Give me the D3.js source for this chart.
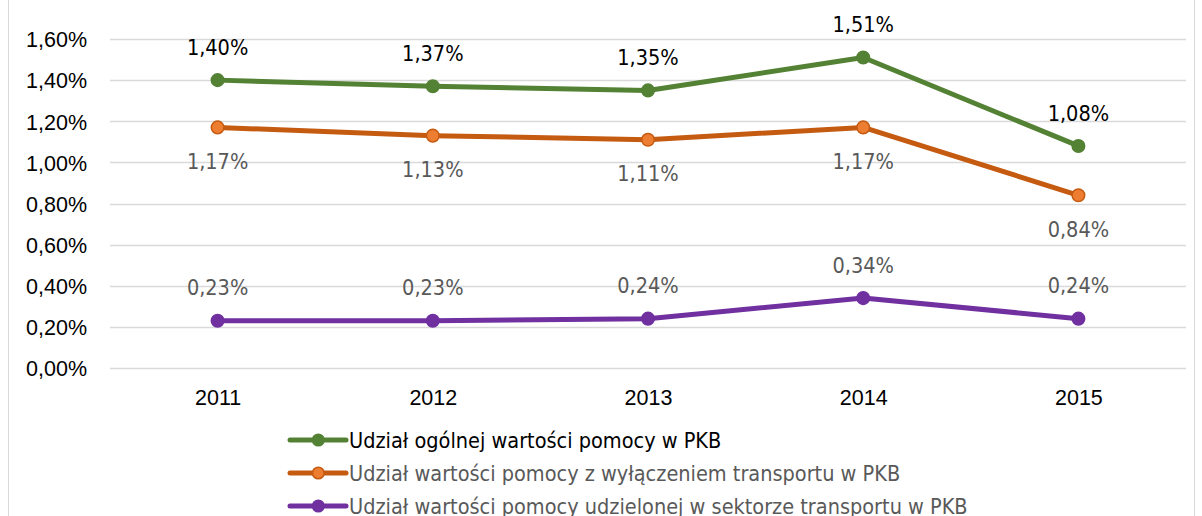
<!DOCTYPE html>
<html><head><meta charset="utf-8">
<script src="https://cdn.jsdelivr.net/npm/d3@7"></script>
<style>body{margin:0;background:#fff;}svg{display:block;font-family:"DejaVu Sans Condensed","DejaVu Sans",sans-serif;}</style>
</head><body>
<svg id="c" width="1202" height="516"></svg>
<script>
const years = ["2011","2012","2013","2014","2015"];
const seriesNames = ["Udział ogólnej wartości pomocy w PKB","Udział wartości pomocy z wyłączeniem transportu w PKB","Udział wartości pomocy udzielonej w sektorze transportu w PKB"];
const totalShare = [1.40,1.37,1.35,1.51,1.08];
const exclTransportShare = [1.17,1.13,1.11,1.17,0.84];
const transportShare = [0.23,0.23,0.24,0.34,0.24];
const yTicks = [0,0.2,0.4,0.6,0.8,1.0,1.2,1.4,1.6];

const series = [
  {name:seriesNames[0], values:totalShare, line:"#548235", fill:"#548235", labelColor:"#000", pos:"above", legendColor:"#000"},
  {name:seriesNames[1], values:exclTransportShare, line:"#C55A11", fill:"#ED7D31", labelColor:"#595959", pos:"below", legendColor:"#595959"},
  {name:seriesNames[2], values:transportShare, line:"#7030A0", fill:"#7030A0", labelColor:"#595959", pos:"above", legendColor:"#595959"}
];

const FS = 21.5;
const svg = d3.select("#c");
const fmt = v => d3.format(".2f")(v).replace(".", ",") + "%";

svg.append("rect").attr("x",8.5).attr("y",-5).attr("width",1186).attr("height",530)
  .attr("fill","none").attr("stroke","#d9d9d9");

const x = d3.scalePoint().domain(years).range([110,1186]).padding(0.5);
const y = d3.scaleLinear().domain([0,1.6]).range([368,39]);

const grid = svg.append("g");
grid.selectAll("line").data(yTicks).join("line")
  .attr("x1",110).attr("x2",1186)
  .attr("y1",d=>Math.round(y(d))+0.5).attr("y2",d=>Math.round(y(d))+0.5)
  .attr("stroke","#d9d9d9").attr("stroke-width",1.5);

const yAxis = svg.append("g").attr("transform","translate(110,0)")
  .call(d3.axisLeft(y).tickValues(yTicks).tickSize(0).tickPadding(23).tickFormat(d=>d3.format(".2f")(d).replace(".",",")+"%"));
yAxis.select(".domain").remove();
yAxis.selectAll("text").attr("font-size",FS).attr("fill","#000").attr("dy","0.36em");

const xAxis = svg.append("g").attr("transform","translate(0,368)")
  .call(d3.axisBottom(x).tickSize(0).tickPadding(0));
xAxis.select(".domain").remove();
xAxis.selectAll("text").attr("font-size",FS).attr("fill","#000").attr("y",29).attr("dy","0.36em");

const line = d3.line().x((d,i)=>x(years[i])).y(d=>y(d));

series.forEach(s=>{
  const g = svg.append("g");
  g.append("path").datum(s.values).attr("d",line).attr("fill","none")
    .attr("stroke",s.line).attr("stroke-width",5).attr("stroke-linejoin","round");
  g.selectAll("circle").data(s.values).join("circle")
    .attr("cx",(d,i)=>x(years[i])).attr("cy",d=>y(d)).attr("r",6.3)
    .attr("fill",s.fill).attr("stroke",s.line).attr("stroke-width",1.5);
  g.selectAll("text").data(s.values).join("text")
    .attr("x",(d,i)=>x(years[i])).attr("y",d=>y(d) + (s.pos==="above" ? -33 : 34))
    .attr("dy","0.36em")
    .attr("text-anchor","middle").attr("font-size",FS).attr("fill",s.labelColor)
    .text(fmt);
});

const leg = svg.append("g");
series.forEach((s,i)=>{
  const yy = 440 + i*33;
  const g = leg.append("g");
  g.append("line").attr("x1",290).attr("x2",346).attr("y1",yy).attr("y2",yy)
    .attr("stroke",s.line).attr("stroke-width",5).attr("stroke-linecap","round");
  g.append("circle").attr("cx",318.3).attr("cy",yy).attr("r",5.8)
    .attr("fill",s.fill).attr("stroke",s.line).attr("stroke-width",1.5);
  g.append("text").attr("x",349).attr("y",yy).attr("dy","0.36em").attr("font-size",FS)
    .attr("fill",s.legendColor).text(s.name);
});
</script>
</body></html>
